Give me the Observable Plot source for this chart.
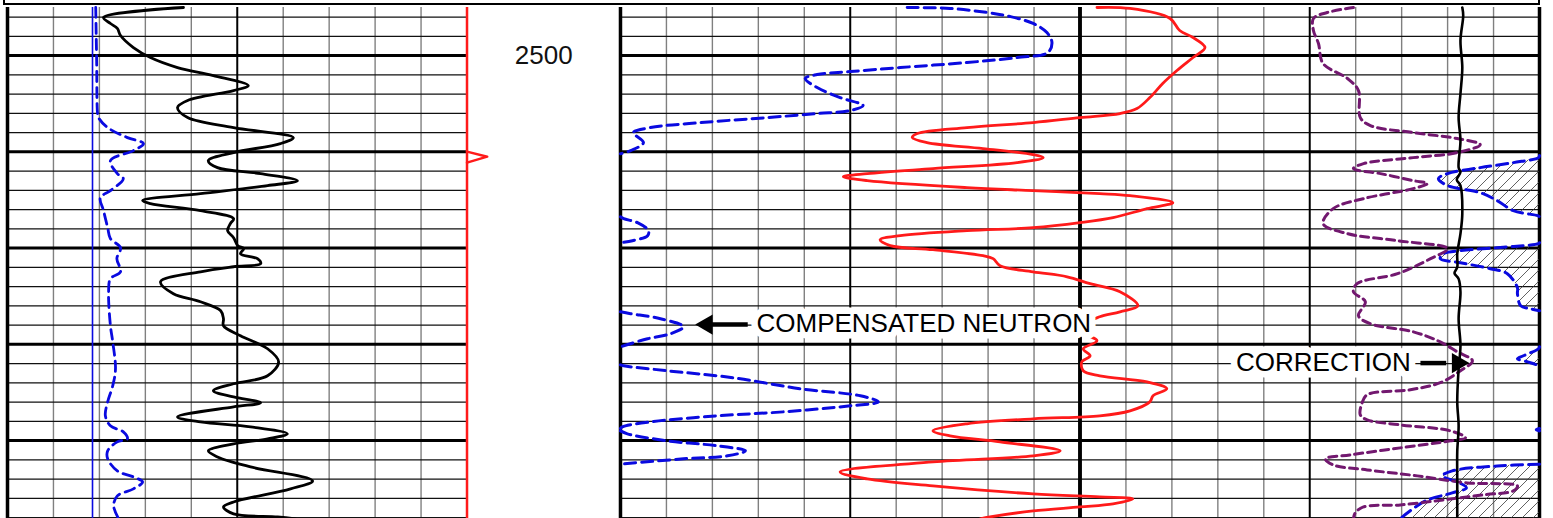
<!DOCTYPE html>
<html><head><meta charset="utf-8">
<script src="https://cdn.jsdelivr.net/npm/d3@7"></script>
<script src="https://cdn.jsdelivr.net/npm/@observablehq/plot@0.6"></script>
<style>
body{margin:0;background:#fff;overflow:hidden}
#hdr{margin-left:3px;width:1533px;height:3px;border:2px solid #000;border-top:none}
#chart svg{display:block}
</style></head><body>
<div id="hdr"></div>
<div id="chart"></div>
<script>
// ---- depth range (ft) and track layout (chart divisions) ----
const depthTop = 2495, depthBottom = 2548.1;
const T1 = 0, T2 = 13.34, T3 = 23.34;   // left edges of track 1, 2, 3 (10 divisions each)

// ---- Track 1 ----
const gammaRay = [[2495.0,3.83],[2496.04,2.09],[2496.66,2.24],[2497.18,2.39],[2497.91,2.46],[2499.16,2.74],[2500.2,3.11],[2501.24,3.70],[2502.07,4.48],[2503.11,5.24],[2503.63,4.92],[2504.67,3.92],[2505.4,3.70],[2506.44,3.92],[2507.48,4.92],[2508.52,6.22],[2509.14,5.94],[2510.08,4.92],[2510.91,4.37],[2511.64,4.57],[2512.26,5.51],[2512.99,6.31],[2513.51,5.66],[2514.34,4.20],[2515.07,2.94],[2515.38,3.11],[2516.11,4.20],[2516.94,4.92],[2517.46,4.85],[2518.19,4.79],[2518.92,4.92],[2519.75,5.01],[2520.06,5.14],[2520.58,5.07],[2521.1,5.44],[2521.62,5.51],[2521.94,4.92],[2522.46,4.20],[2523.5,3.33],[2524.74,3.61],[2525.58,4.20],[2526.51,4.64],[2527.34,4.70],[2528.07,4.70],[2529.11,5.07],[2530.46,5.66],[2531.82,5.90],[2533.27,5.66],[2534.1,4.92],[2534.83,4.48],[2535.46,4.92],[2536.08,5.51],[2536.5,4.92],[2537.54,3.70],[2538.06,4.20],[2538.58,5.29],[2539.3,6.09],[2539.82,5.66],[2540.34,4.92],[2541.07,4.37],[2541.7,4.57],[2542.74,5.29],[2544.19,6.64],[2545.02,6.16],[2546.38,4.92],[2546.9,4.70],[2547.62,4.92],[2547.94,5.88],[2548.14,6.27]];
const caliper = [[2495.0,1.92],[2500.5,1.94],[2506.02,1.96],[2506.44,1.98],[2507.48,2.18],[2508.52,2.61],[2509.14,2.96],[2509.87,2.74],[2510.91,2.24],[2512.26,2.39],[2512.78,2.52],[2514.03,2.24],[2514.76,2.02],[2516.11,2.09],[2517.88,2.18],[2519.02,2.24],[2519.96,2.46],[2521.1,2.38],[2522.46,2.46],[2523.18,2.24],[2524.54,2.20],[2528.07,2.24],[2529.74,2.29],[2532.54,2.35],[2534.31,2.29],[2535.98,2.18],[2537.43,2.13],[2538.47,2.24],[2539.1,2.52],[2539.82,2.61],[2540.14,2.39],[2541.07,2.18],[2541.9,2.18],[2543.15,2.39],[2543.78,2.74],[2544.3,2.94],[2545.02,2.74],[2545.75,2.39],[2546.79,2.31],[2548.14,2.42]];
const bitSize = 1.85;

// ---- Track 2: compensated neutron (segments inside track 2) ----
const neutronSeg1 = [[2495.0,6.24],[2495.1,7.17],[2495.52,7.98],[2495.94,8.48],[2496.66,8.98],[2497.6,9.28],[2498.64,9.39],[2499.68,9.30],[2500.2,8.63],[2500.72,7.54],[2501.24,6.09],[2501.66,5.00],[2501.97,4.28],[2502.38,4.02],[2503.32,4.28],[2504.36,4.78],[2505.19,5.28],[2505.71,5.00],[2506.02,4.28],[2506.44,3.20],[2506.96,1.74],[2507.48,0.65],[2508.0,0.28],[2509.04,0.50],[2509.87,0.22],[2510.2,0]];
const neutronSeg2 = [[2516.74,0],[2516.94,0.07],[2517.36,0.37],[2518.19,0.61],[2518.71,0.59],[2519.23,0.26],[2519.44,0]];
const neutronSeg3 = [[2526.62,0],[2526.82,0.22],[2527.34,0.87],[2528.18,1.37],[2528.9,1.09],[2529.42,0.59],[2530.15,0.07],[2530.26,0]];
const neutronSeg4 = [[2532.13,0],[2532.23,0.07],[2532.75,1.02],[2533.48,2.46],[2534.62,3.91],[2535.35,5.22],[2535.98,5.61],[2536.39,5.0],[2537.02,3.54],[2537.43,2.11],[2538.06,0.65],[2538.58,0.04],[2538.75,0]];
const neutronSeg5 = [[2539.0,0],[2539.3,0.15],[2540.03,1.02],[2540.55,2.11],[2541.07,2.72],[2541.59,2.33],[2541.9,1.37],[2542.42,0.07],[2542.47,0]];
// neutron wrapped into track 3
const neutronWrap1 = [[2510.39,10],[2510.6,9.98],[2511.12,9.43],[2511.64,8.71],[2512.26,8.0],[2512.78,7.80],[2513.51,8.0],[2514.24,8.71],[2515.07,9.08],[2516.11,9.43],[2516.63,9.96],[2516.74,10]];
const neutronWrap2 = [[2519.44,10],[2519.54,9.98],[2519.96,9.08],[2520.27,8.28],[2520.58,7.91],[2521.1,7.84],[2521.52,8.28],[2522.14,8.93],[2522.66,9.30],[2524.12,9.52],[2524.74,9.52],[2525.99,9.59],[2526.3,9.80],[2526.51,10]];
const neutronWrap3 = [[2530.26,10],[2530.46,9.98],[2531.19,9.65],[2531.5,9.52],[2531.82,9.74],[2532.23,9.98],[2532.34,10]];
const neutronWrap4 = [[2538.75,10],[2538.87,9.93],[2539.0,10]];
const neutronWrap5 = [[2542.47,10],[2542.64,9.08],[2543.15,8.10],[2543.67,7.89],[2544.4,8.26],[2544.92,8.41],[2545.44,8.10],[2546.27,7.52],[2548.04,6.99],[2548.14,6.97]];

// ---- Track 2: density (red) ----
const density = [[2495.0,10.37],[2495.1,11.09],[2496.14,11.96],[2497.39,12.17],[2498.12,12.46],[2499.16,12.72],[2500.2,12.46],[2501.55,12.11],[2502.9,11.80],[2504.36,11.52],[2505.5,11.24],[2506.02,10.87],[2506.44,10.0],[2506.96,8.98],[2507.48,7.54],[2508.1,6.46],[2508.52,6.35],[2509.04,6.67],[2509.66,7.89],[2510.29,8.98],[2510.6,9.20],[2511.12,8.63],[2511.74,6.80],[2512.26,5.37],[2512.58,4.85],[2512.99,5.37],[2513.72,7.54],[2514.03,8.98],[2514.34,10.43],[2514.55,11.09],[2515.28,12.02],[2515.9,11.46],[2516.84,10.72],[2517.36,10.0],[2517.88,8.98],[2518.19,7.54],[2518.71,6.09],[2519.13,5.65],[2519.75,5.87],[2520.17,6.80],[2520.79,7.89],[2521.1,8.11],[2521.83,8.26],[2522.46,8.98],[2522.98,9.72],[2523.7,10.22],[2524.54,10.87],[2526.0,11.26],[2526.62,10.87],[2527.14,10.43],[2527.76,10.17],[2528.8,10.11],[2529.63,10.37],[2530.46,10.07],[2531.19,10.22],[2531.82,10.04],[2532.75,10.07],[2533.27,10.43],[2533.9,11.46],[2534.62,11.89],[2535.35,11.59],[2535.98,11.52],[2536.91,11.09],[2537.43,10.43],[2537.74,8.98],[2538.26,7.54],[2538.99,6.80],[2539.51,7.17],[2540.14,8.26],[2541.07,9.57],[2541.59,8.98],[2542.22,6.80],[2543.26,4.78],[2543.99,5.37],[2544.71,6.80],[2545.54,8.98],[2545.86,10.43],[2546.06,11.15],[2546.58,10.72],[2546.9,10.0],[2547.31,8.98],[2547.94,8.04],[2548.14,7.83]];

// ---- Track 3 ----
const photoelectric = [[2495.0,5.95],[2495.52,5.38],[2496.14,5.08],[2497.39,5.08],[2498.74,5.19],[2500.82,5.29],[2502.38,5.82],[2503.63,6.06],[2506.44,6.10],[2507.27,6.32],[2508.0,7.25],[2508.62,8.21],[2509.25,8.71],[2510.08,8.21],[2510.6,7.25],[2511.22,6.17],[2511.74,5.95],[2512.26,6.54],[2512.99,7.25],[2513.3,7.56],[2513.82,7.25],[2514.86,6.17],[2515.9,5.51],[2517.46,5.29],[2518.5,5.82],[2519.23,6.91],[2520.06,8.0],[2521.1,7.63],[2522.66,6.91],[2523.7,6.03],[2524.54,5.95],[2525.58,6.21],[2527.03,6.06],[2527.86,6.32],[2528.7,7.25],[2529.74,7.84],[2530.78,8.21],[2531.71,8.54],[2532.75,8.28],[2533.99,7.84],[2534.72,7.19],[2535.24,6.25],[2536.08,6.14],[2537.33,6.10],[2537.85,6.25],[2538.37,6.97],[2538.99,8.06],[2539.71,8.39],[2540.03,8.06],[2540.76,6.97],[2541.49,5.88],[2541.9,5.34],[2542.53,5.51],[2543.05,6.25],[2543.67,7.34],[2544.4,8.43],[2544.71,9.52],[2545.23,9.43],[2545.64,8.78],[2546.17,7.91],[2546.69,6.97],[2546.9,6.17],[2547.52,5.99],[2548.14,5.95]];
const correction = [[2495.0,8.32],[2495.83,8.34],[2498.43,8.28],[2501.24,8.32],[2503.94,8.28],[2506.44,8.24],[2508.83,8.28],[2511.64,8.24],[2512.1,8.28],[2512.9,8.2],[2513.5,8.28],[2516.42,8.32],[2518.5,8.28],[2520.58,8.21],[2522.0,8.21],[2522.6,8.15],[2523.2,8.24],[2524.54,8.28],[2527.34,8.24],[2530.15,8.28],[2532.54,8.24],[2535.98,8.21],[2538.47,8.24],[2541.18,8.21],[2543.99,8.21],[2548.14,8.21]];

// ---- depth track ----
const depthLabels = [{depth: 2500, text: "2500"}];
const depthMarker = [[2509.98,0],[2510.5,0.44],[2511.12,0]];

// ---- annotations (track-relative positions) ----
const labelsStart = [{text: "COMPENSATED NEUTRON", depth: 2527.9, track: T2, at: 2.96}];
const labelsEnd = [{text: "CORRECTION", depth: 2531.95, track: T3, at: 7.2}];
const arrowsLeft = [{depth: 2527.95, track: T2, from: 2.78, to: 1.98, tip: 1.88}];
const arrowsRight = [{depth: 2531.95, track: T3, from: 7.42, to: 7.98, tip: 8.22}];

// ---- grid ----
const gridDepths = d3.range(2496, 2549, 2);
const hRules = [];
for (const d of gridDepths) {
  hRules.push({d, x1: T1, x2: T1 + 10, major: d % 10 === 0});
  hRules.push({d, x1: T2, x2: T3 + 10, major: d % 10 === 0});
}
const vRules = [];
for (const t of [T1, T2, T3]) for (let i = 0; i <= 10; i++)
  vRules.push({x: t + i, kind: (i === 0 || i === 10) ? "border" : i === 5 ? "mid" : "minor", red: t === T1 && i === 10});

const BLUE = "#0a0ae0", RED = "#ff1a1a", PURPLE = "#72186f";
const font = "Liberation Sans, Arial, Helvetica, sans-serif";
const curve = "catmull-rom";
const yd = d => d[0];

const neutronT2 = [neutronSeg1, neutronSeg2, neutronSeg3, neutronSeg4, neutronSeg5];
const neutronT3 = [neutronWrap1, neutronWrap2, neutronWrap3, neutronWrap4, neutronWrap5];

const labelStyle = {fontSize: 26, fontFamily: font, fill: "#000", stroke: "#fff", strokeWidth: 13, strokeLinejoin: "round", lineAnchor: "middle"};

const marks = [
  Plot.ruleX(vRules.filter(r => r.kind === "minor"), {x: "x", y1: depthTop, y2: depthBottom, stroke: "#808080", strokeWidth: 1.4}),
  Plot.ruleY(hRules.filter(r => !r.major), {y: "d", x1: "x1", x2: "x2", stroke: "#111", strokeWidth: 1.2}),
  Plot.ruleY(hRules.filter(r => r.major), {y: "d", x1: "x1", x2: "x2", stroke: "#000", strokeWidth: 3}),
  Plot.ruleX(vRules.filter(r => r.kind === "mid"), {x: "x", y1: depthTop, y2: depthBottom, stroke: "#000", strokeWidth: 2}),
  Plot.ruleX(vRules.filter(r => r.kind === "border" && !r.red), {x: "x", y1: depthTop, y2: depthBottom, stroke: "#000", strokeWidth: 3.5}),
  Plot.ruleX(vRules.filter(r => r.red), {x: "x", y1: depthTop, y2: depthBottom, stroke: RED, strokeWidth: 2.5}),
  // hatch between wrapped neutron and the right edge of track 3
  ...neutronT3.map(s => Plot.areaX(s, {y: yd, x1: d => T3 + d[1], x2: T3 + 10, fill: "url(#hatch)", curve})),
  // track 1
  Plot.ruleX([T1 + bitSize], {y1: depthTop, y2: depthBottom, stroke: BLUE, strokeWidth: 1.6}),
  Plot.line(caliper, {y: yd, x: d => T1 + d[1], stroke: BLUE, strokeWidth: 2.8, strokeDasharray: "10,6", curve}),
  Plot.line(gammaRay, {y: yd, x: d => T1 + d[1], stroke: "#000", strokeWidth: 2.8, curve}),
  // track 2 / 3
  ...neutronT2.map(s => Plot.line(s, {y: yd, x: d => T2 + d[1], stroke: BLUE, strokeWidth: 3, strokeDasharray: "11,6", curve})),
  ...neutronT3.map(s => Plot.line(s, {y: yd, x: d => T3 + d[1], stroke: BLUE, strokeWidth: 3, strokeDasharray: "11,6", curve})),
  Plot.line(density, {y: yd, x: d => T2 + d[1], stroke: RED, strokeWidth: 2.8, curve}),
  Plot.line(photoelectric, {y: yd, x: d => T3 + d[1], stroke: PURPLE, strokeWidth: 3, strokeDasharray: "8,5", curve}),
  Plot.line(correction, {y: yd, x: d => T3 + d[1], stroke: "#000", strokeWidth: 2.6, curve}),
  // depth track
  Plot.line(depthMarker, {y: yd, x: d => T1 + 10 + d[1], stroke: RED, strokeWidth: 2.5}),
  Plot.text(depthLabels, {y: "depth", x: (T1 + 10 + T2) / 2, text: "text", fontSize: 26, fontFamily: font, fill: "#111", lineAnchor: "middle"}),
  // annotations
  Plot.text(labelsStart, {y: "depth", x: d => d.track + d.at, text: "text", textAnchor: "start", ...labelStyle}),
  Plot.text(labelsEnd, {y: "depth", x: d => d.track + d.at, text: "text", textAnchor: "end", ...labelStyle}),
  Plot.ruleY([...arrowsLeft, ...arrowsRight], {y: "depth", x1: d => d.track + d.from, x2: d => d.track + d.to, stroke: "#000", strokeWidth: 4.5}),
  Plot.dot(arrowsLeft, {y: "depth", x: d => d.track + d.tip, symbol: "triangle", r: 7.5, rotate: -90, fill: "#000"}),
  Plot.dot(arrowsRight, {y: "depth", x: d => d.track + d.tip, symbol: "triangle", r: 7.5, rotate: 90, fill: "#000"})
];

const chart = Plot.plot({
  width: 1553, height: 513,
  marginTop: 2, marginBottom: 0, marginLeft: 7, marginRight: 14,
  x: {domain: [0, 33.34], axis: null},
  y: {domain: [depthTop, depthBottom], reverse: true, axis: null},
  style: {background: "#fff", overflow: "visible"},
  marks
});

// hatch pattern definition
const ns = "http://www.w3.org/2000/svg";
const defs = document.createElementNS(ns, "defs");
defs.innerHTML = '<pattern id="hatch" patternUnits="userSpaceOnUse" width="11" height="11">' +
  '<path d="M-2,13 L13,-2 M-2,2 L2,-2 M9,13 L13,9" stroke="#3a3a3a" stroke-width="0.8"/></pattern>';
chart.insertBefore(defs, chart.firstChild);
document.getElementById("chart").appendChild(chart);
</script>
</body></html>
